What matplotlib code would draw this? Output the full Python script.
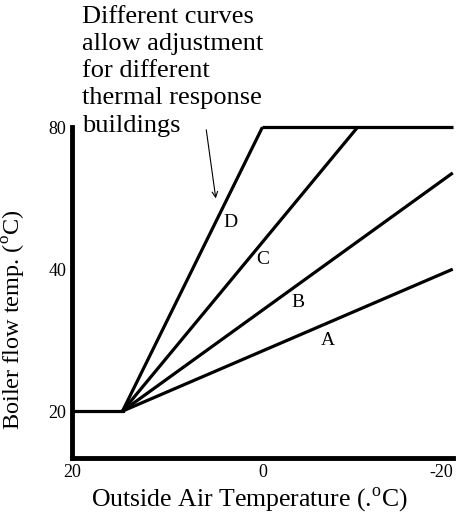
import matplotlib.pyplot as plt

plt.rcParams['font.family'] = ['Liberation Serif', 'DejaVu Serif']
plt.rcParams['mathtext.fontset'] = 'custom'
plt.rcParams['mathtext.rm'] = 'Liberation Serif'

# compensation curves: outside temp (C) -> boiler flow temp (C)
knee_temp = 14.7
base_flow = 20
max_flow = 80
curve_names = ['D', 'C', 'B', 'A']
curve_end_temp = [0, -10, -20, -20]
curve_end_flow = [80, 80, 64, 40]
label_pos = [(3.4, 50.3), (0, 42), (-3.7, 34), (-6.9, 28.3)]

x_ticks = [20, 0, -20]
y_ticks = [20, 40, 80]

fig = plt.figure(figsize=(4.62, 5.13), dpi=100)
ax = fig.add_axes([0.156, 0.107, 0.824, 0.645])
ax.set_yscale('log', base=2)
ax.set_xlim(20, -20)
ax.set_ylim(15.9, 80)

lw = 2.3
# flat section before the knee and the ceiling at max flow
ax.plot([20, knee_temp], [base_flow, base_flow], color='black', lw=lw, clip_on=False)
ax.plot([0, -20], [max_flow, max_flow], color='black', lw=lw, clip_on=False,
        solid_capstyle='butt')
for name, t, f, pos in zip(curve_names, curve_end_temp, curve_end_flow, label_pos):
    ax.plot([knee_temp, t], [base_flow, f], color='black', lw=lw, clip_on=False,
            solid_capstyle='butt')
    ax.text(pos[0], pos[1], name, fontsize=14, ha='center', va='center')

for side in ['top', 'right']:
    ax.spines[side].set_visible(False)
for side in ['left', 'bottom']:
    ax.spines[side].set_linewidth(3.5)

ax.set_xticks(x_ticks)
ax.set_xticklabels([str(v) for v in x_ticks])
ax.set_yticks(y_ticks)
ax.set_yticklabels([str(v) for v in y_ticks])
ax.yaxis.set_minor_locator(plt.NullLocator())
ax.tick_params(length=0, labelsize=13, pad=4)
ax.get_xticklabels()[-1].set_horizontalalignment('right')

ax.set_xlabel('Outside Air Temperature (.$^{\\rm o}$C)', fontsize=18.5)
ax.xaxis.set_label_coords(0.467, -0.082)
ax.set_ylabel('Boiler flow temp. ($^{\\rm o}$C)', fontsize=17.5)
ax.yaxis.set_label_coords(-0.115, 0.417)

fig.text(0.177, 0.988, 'Different curves\nallow adjustment\nfor different\nthermal response\nbuildings',
         fontsize=19, ha='left', va='top', linespacing=1.3)
ax.annotate('', xy=(4.9, 56.5), xytext=(5.9, 79),
            arrowprops=dict(arrowstyle='->', color='black', lw=0.8,
                            shrinkA=0, shrinkB=0),
            annotation_clip=False)

fig.savefig('out.png', dpi=100)
